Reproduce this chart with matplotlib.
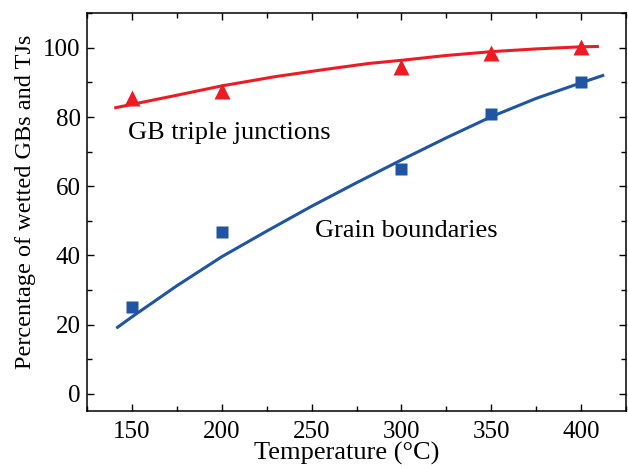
import matplotlib
matplotlib.use('Agg')
import matplotlib.pyplot as plt
from matplotlib.ticker import MultipleLocator

plt.rcParams['font.family'] = ['Liberation Serif', 'DejaVu Serif']

# Measured points
temp = [150, 200, 300, 350, 400]
tj_pct = [85.5, 87.4, 94.5, 98.6, 100.3]
gb_pct = [25.1, 46.8, 65.0, 80.9, 90.2]

# Fitted curves
tj_fit_x = [141, 175, 200, 230, 258, 282, 300, 325, 350, 375, 400, 409]
tj_fit_y = [82.7, 86.3, 89.0, 91.7, 93.8, 95.5, 96.4, 97.8, 98.9, 99.7, 100.3, 100.4]
gb_fit_x = [142, 150, 175, 200, 225, 250, 275, 300, 325, 350, 375, 400, 412]
gb_fit_y = [19.2, 22.2, 31.2, 39.6, 47.0, 54.2, 61.0, 67.6, 74.0, 80.1, 85.4, 89.9, 92.0]

red = '#ED1C24'
blue = '#1F55A3'

fig = plt.figure(figsize=(6.28, 4.69), dpi=100)
ax = fig.add_axes([0.1385, 0.1237, 0.8585, 0.848])

ax.plot(tj_fit_x, tj_fit_y, '-', color=red, lw=2.2)
ax.plot(gb_fit_x, gb_fit_y, '-', color=blue, lw=2.2)
ax.plot(temp, tj_pct, '^', color=red, ms=11, mec='none')
ax.plot(temp, gb_pct, 's', color=blue, ms=9, mec='none')

ax.text(148, 75.4, 'GB triple junctions', fontsize=19, va='center', ha='left')
ax.text(252, 47.1, 'Grain boundaries', fontsize=19, va='center', ha='left')

ax.set_xlim(125, 425)
ax.set_ylim(-5, 110)
ax.xaxis.set_major_locator(MultipleLocator(50))
ax.xaxis.set_minor_locator(MultipleLocator(25))
ax.yaxis.set_major_locator(MultipleLocator(20))
ax.yaxis.set_minor_locator(MultipleLocator(10))
ax.set_xticks([150, 200, 250, 300, 350, 400])

ax.tick_params(which='both', direction='in', top=True, right=True, labelsize=18, width=1)
ax.tick_params(which='major', length=5)
ax.tick_params(which='minor', length=3.5)
ax.tick_params(axis='x', which='major', pad=7.5)
ax.tick_params(axis='y', which='major', pad=4.5)
for s in ax.spines.values():
    s.set_linewidth(1.1)

ax.set_xlabel('Temperature (°C)', fontsize=19)
ax.set_ylabel('Percentage of wetted GBs and TJs', fontsize=17.5)
ax.xaxis.set_label_coords(0.4815, -0.079)
ax.yaxis.set_label_coords(-0.095, 0.526)

fig.savefig('out.png', dpi=100)
